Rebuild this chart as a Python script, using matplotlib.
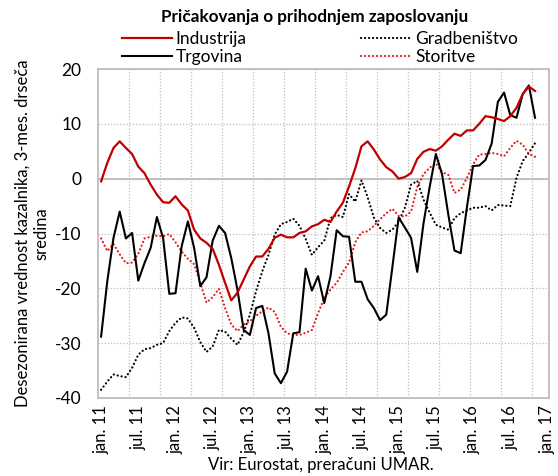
import numpy as np
import matplotlib
matplotlib.use("Agg")
import matplotlib.pyplot as plt

plt.rcParams['font.family'] = ['Lato', 'DejaVu Sans']

title = "Pričakovanja o prihodnjem zaposlovanju"
ylabel = "Desezonirana vrednost kazalnika, 3-mes. drseča\nsredina"
source = "Vir: Eurostat, preračuni UMAR."

tick_labels = ["jan. 11", "jul. 11", "jan. 12", "jul. 12", "jan. 13", "jul. 13",
               "jan. 14", "jul. 14", "jan. 15", "jul. 15", "jan. 16", "jul. 16", "jan. 17"]

# monthly values, Jan 2011 - Nov 2016
industrija = [-0.5, 2.9, 5.6, 6.8, 5.6, 4.5, 2.2, 1.0, -1.1, -2.9,
              -4.3, -4.4, -3.2, -4.7, -5.8, -9.3, -10.9, -11.7, -12.8, -15.7,
              -19.0, -22.2, -20.8, -18.4, -16.0, -14.2, -14.2, -12.8, -10.8, -10.2,
              -10.7, -10.7, -9.9, -9.6, -8.7, -8.3, -7.5, -7.9, -6.0, -4.4,
              -1.4, 1.9, 5.9, 6.8, 5.3, 3.5, 2.1, 1.3, 0.0, 0.3,
              1.0, 3.6, 4.9, 5.4, 5.1, 5.9, 7.1, 8.2, 7.8, 8.8,
              8.8, 10.0, 11.4, 11.2, 10.9, 10.5, 11.4, 12.9, 15.4, 16.8,
              16.0]

trgovina = [-28.8, -18.7, -10.8, -6.0, -10.9, -9.9, -18.6, -15.4, -12.6, -7.0,
            -10.8, -21.0, -20.9, -12.3, -7.8, -12.6, -19.6, -18.0, -11.3, -8.6,
            -9.9, -14.5, -20.3, -27.6, -28.5, -23.6, -23.2, -28.2, -35.5, -37.3,
            -35.2, -28.2, -28.0, -16.4, -20.4, -17.8, -22.7, -17.8, -9.4, -10.5,
            -10.6, -18.8, -18.8, -22.0, -23.6, -25.8, -24.8, -16.0, -7.1, -8.9,
            -10.8, -17.0, -8.2, -1.5, 4.5, 0.8, -6.5, -13.1, -13.6, -5.3,
            2.3, 2.4, 3.4, 6.4, 14.0, 15.7, 11.6, 11.1, 15.4, 17.0,
            11.1]

gradbenistvo = [-38.5, -37.0, -35.7, -36.0, -36.2, -34.5, -32.1, -31.1, -30.9, -30.3,
                -30.0, -27.8, -26.3, -25.3, -25.5, -27.2, -29.8, -31.6, -30.6, -27.6,
                -27.9, -29.2, -30.3, -28.0, -24.8, -20.5, -16.9, -13.9, -10.2, -8.3,
                -7.9, -7.3, -8.6, -11.0, -13.9, -12.5, -11.3, -7.2, -6.6, -7.0,
                -2.8, -4.2, -0.3, -3.4, -7.1, -9.0, -9.9, -9.3, -7.8, -5.3,
                -1.1, -0.4, -3.8, -6.2, -8.4, -8.9, -9.3, -7.2, -6.3, -5.8,
                -5.3, -5.3, -5.0, -5.8, -4.8, -4.9, -5.0, 0.1, 3.2, 4.7,
                6.5]

storitve = [-10.9, -13.2, -11.9, -13.8, -15.4, -15.3, -13.7, -10.9, -10.6, -10.4,
            -10.5, -10.1, -11.6, -13.3, -14.6, -15.6, -19.0, -22.6, -21.6, -20.1,
            -23.6, -26.6, -27.8, -26.6, -26.0, -25.0, -24.2, -23.5, -24.3, -27.0,
            -28.2, -28.5, -28.5, -28.1, -27.6, -24.5, -21.8, -20.2, -19.0, -17.0,
            -15.3, -11.6, -9.8, -9.6, -8.6, -7.4, -6.3, -5.5, -6.8, -6.9,
            -6.0, -1.5, 0.8, 2.0, 2.8, 1.2, 0.7, -2.6, -2.0, 0.1,
            2.6, 4.4, 4.5, 4.7, 4.5, 4.1, 5.6, 6.9, 6.2, 4.5,
            4.0]

months = np.arange(len(industrija)) + 0.5

fig = plt.figure(figsize=(5.58, 4.76), dpi=100)
ax = fig.add_axes([98/558, 1-398/476, 451/558, 329/476])

dot = (0, (0.05, 1.75))
ax.plot(months, gradbenistvo, color='black', lw=1.6, linestyle=dot, dash_capstyle='round',
        label='Gradbeništvo', zorder=3)
ax.plot(months, storitve, color='#E31A1C', lw=1.6, linestyle=dot, dash_capstyle='round',
        label='Storitve', zorder=3)
ax.plot(months, trgovina, color='black', lw=1.5, label='Trgovina', zorder=4)
ax.plot(months, industrija, color='#C00000', lw=1.6, label='Industrija', zorder=5)

ax.set_xlim(0, 72.75)
ax.set_ylim(-40, 20)
ax.set_yticks(np.arange(-40, 21, 10))
ax.set_yticklabels([str(v) for v in range(-40, 21, 10)])
ax.set_xticks(np.arange(len(tick_labels)) * 6 + 0.5)
ax.set_xticklabels(tick_labels, rotation=90)
ax.set_xticks(np.arange(5, 71, 5), minor=True)
ax.tick_params(axis='both', which='both', length=0)
ax.tick_params(axis='y', pad=12, labelsize=12.5)
ax.tick_params(axis='x', pad=5, labelsize=12)

gridstyle = (0, (1, 1.5))
ax.grid(axis='y', which='major', color='#BDBDBD', linestyle=gridstyle, lw=0.9)
ax.grid(axis='x', which='minor', color='#BDBDBD', linestyle=gridstyle, lw=0.9)
ax.axhline(0, color='#BDBDBD', lw=1.3, zorder=1)
for s in ax.spines.values():
    s.set_color('#BDBDBD')
    s.set_linewidth(1.3)

ax.set_ylabel(ylabel, fontsize=12, labelpad=4, multialignment='center')

fig.text(315/558, 1-17/476, title, ha='center', va='center', fontsize=12.3, fontweight='bold')
fig.text(321/558, 1-465/476, source, ha='center', va='center', fontsize=12)

h = {l.get_label(): l for l in ax.get_lines()}
order = ['Industrija', 'Trgovina', 'Gradbeništvo', 'Storitve']
fig.legend([h[o] for o in order], order, loc='center', bbox_to_anchor=(320/558, 1-48/476),
           ncol=2, frameon=False, fontsize=12.5, handlelength=2.9, handletextpad=0.2,
           columnspacing=6.6, labelspacing=0.1, borderpad=0)

fig.savefig('out.png', dpi=100)
